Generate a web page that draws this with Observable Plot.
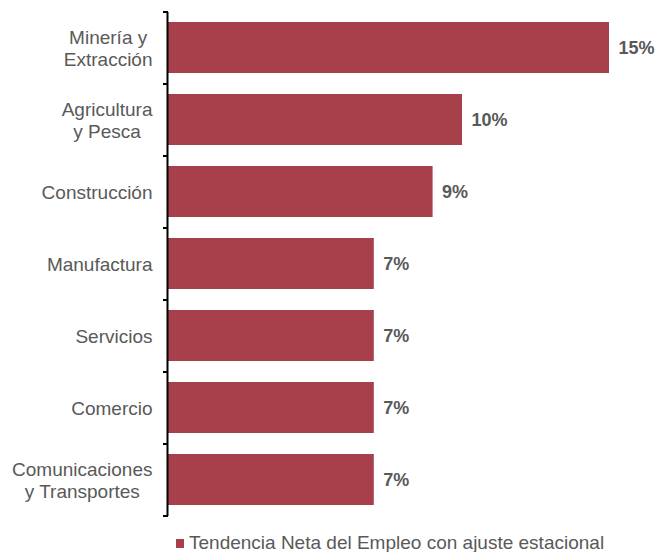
<!DOCTYPE html>
<html>
<head>
<meta charset="utf-8">
<script src="https://cdn.jsdelivr.net/npm/d3@7"></script>
<script src="https://cdn.jsdelivr.net/npm/@observablehq/plot@0.6"></script>
<style>
  html, body { margin: 0; padding: 0; background: #fff; }
  #wrap { position: relative; width: 656px; height: 552px; font-family: "Liberation Sans", Arial, sans-serif; }
  #legend { position: absolute; left: 176px; top: 533px; height: 20px; display: flex; align-items: center; color: #595959; font-size: 19px; white-space: nowrap; }
  #legend .sw { width: 8px; height: 9px; background: #A7404B; margin-right: 5px; }
</style>
</head>
<body>
<div id="wrap">
  <div id="chart"></div>
  <div id="legend"><span class="sw"></span><span id="legtext"></span></div>
</div>
<script>
const categories = [
  "Minería y\nExtracción",
  "Agricultura\ny Pesca",
  "Construcción",
  "Manufactura",
  "Servicios",
  "Comercio",
  "Comunicaciones\ny Transportes"
];
const values = [15, 10, 9, 7, 7, 7, 7];
const seriesName = "Tendencia Neta del Empleo con ajuste estacional";

const data = categories.map((c, i) => ({category: c, value: values[i]}));
const barColor = "#A7404B";
const textColor = "#595959";
const fontFamily = "'Liberation Sans', Arial, sans-serif";
const labelSize = 19;
const labelGap = 16;

// measure label block widths so that multi-line labels are centred as a block, right-aligned to the axis
const ctx = document.createElement("canvas").getContext("2d");
ctx.font = `${labelSize}px ${fontFamily}`;
const blockWidth = c => Math.max(...c.split("\n").map(s => ctx.measureText(s).width));

const labelMarks = data.map(d => Plot.text([d], {
  y: "category",
  text: "category",
  frameAnchor: "left",
  textAnchor: "middle",
  dx: -(labelGap + blockWidth(d.category) / 2),
  fill: textColor,
  fontSize: labelSize,
  lineHeight: 1.16
}));

const chart = Plot.plot({
  width: 656,
  height: 526,
  marginTop: 12,
  marginBottom: 10,
  marginLeft: 168,
  marginRight: 47,
  style: {fontFamily, background: "#fff"},
  x: {domain: [0, 15], axis: null},
  y: {domain: categories, paddingInner: 0.29, paddingOuter: 0.145, axis: null},
  marks: [
    Plot.barX(data, {x: "value", y: "category", fill: barColor}),
    Plot.text(data, {x: "value", y: "category", text: d => d.value + "%", dx: 9, textAnchor: "start", fill: textColor, fontSize: 18, fontWeight: "bold"}),
    ...labelMarks,
    Plot.axisY({anchor: "left", tickSize: 5, dy: -36, text: null, label: null, stroke: "#000", strokeWidth: 2}),
    Plot.axisY([categories[categories.length - 1]], {anchor: "left", tickSize: 5, dy: 36, text: null, label: null, stroke: "#000", strokeWidth: 2}),
    Plot.ruleX([0], {stroke: "#000", strokeWidth: 2, dx: -1})
  ]
});
document.getElementById("chart").appendChild(chart);
document.getElementById("legtext").textContent = seriesName;
</script>
</body>
</html>
